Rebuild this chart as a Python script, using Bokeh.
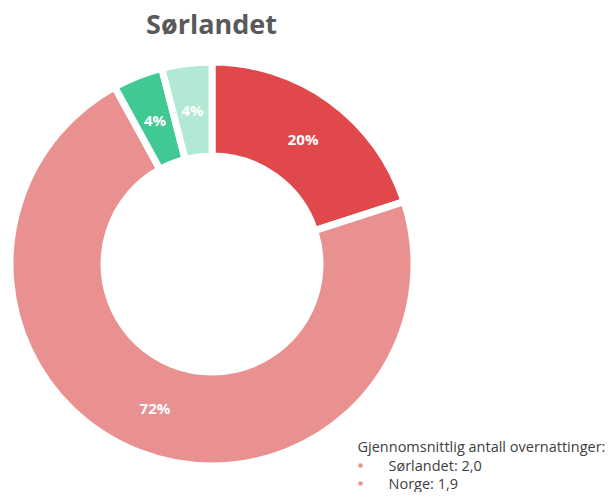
import math
from bokeh.plotting import figure
from bokeh.models import Range1d, ColumnDataSource
from bokeh.core.properties import value
from bokeh.embed import file_html
from bokeh.resources import INLINE

# ---- data ----
title_text = "Sørlandet"
categories = ["Kategori 1", "Kategori 2", "Kategori 3", "Kategori 4"]
shares = [20, 72, 4, 4]
slice_labels = ["20%", "72%", "4%", "4%"]
note_header = "Gjennomsnittlig antall overnattinger:"
note_items = ["Sørlandet: 2,0", "Norge: 1,9"]

# ---- styles ----
colors = ["#E0484B", "#E99090", "#41C993", "#B2E9D4"]
W, H = 606, 492
cx, cy = 211.5, 500 - 263.5
r_out, r_in = 202, 108

p = figure(width=W, height=H, output_backend="svg", toolbar_location=None,
           x_range=Range1d(0, W), y_range=Range1d(500 - H, 500),
           min_border=0)
p.axis.visible = False
p.grid.visible = False
p.outline_line_color = None
p.background_fill_color = "white"
p.border_fill_color = "white"

total = float(sum(shares))
starts, ends, lx, ly = [], [], [], []
cum = 0.0
r_mid = (r_out + r_in) / 2.0
for v in shares:
    a0 = math.pi / 2 - 2 * math.pi * cum / total
    cum += v
    a1 = math.pi / 2 - 2 * math.pi * cum / total
    starts.append(a0)
    ends.append(a1)
    am = (a0 + a1) / 2
    lx.append(cx + r_mid * math.cos(am))
    ly.append(cy + r_mid * math.sin(am))

src = ColumnDataSource(dict(cat=categories, start=starts, end=ends, color=colors,
                            lx=lx, ly=ly, lab=slice_labels))
p.annular_wedge(x=cx, y=cy, inner_radius=r_in, outer_radius=r_out,
                start_angle="start", end_angle="end", direction="clock",
                fill_color="color", line_color="white", line_width=7, source=src)
p.text(x="lx", y="ly", text="lab", source=src, text_color="white",
       text_font=value("Open Sans"), text_font_style="bold", text_font_size="15px",
       text_align="center", text_baseline="middle")

# title
p.text(x=[211], y=[500 - 23], text=[title_text], text_color="#595959",
       text_font=value("Open Sans"), text_font_style="bold", text_font_size="27px",
       text_align="center", text_baseline="middle")

# note
p.text(x=[357], y=[500 - 446], text=[note_header], text_color="#404040",
       text_font=value("Open Sans"), text_font_size="14.5px",
       text_align="left", text_baseline="middle")
p.text(x=[388, 388], y=[500 - 465, 500 - 483], text=note_items, text_color="#404040",
       text_font=value("Open Sans"), text_font_size="14.5px",
       text_align="left", text_baseline="middle")
p.scatter(x=[360, 360], y=[500 - 465, 500 - 483], marker="circle", size=4.5,
          fill_color="#E99090", line_color=None)

open("out.html", "w").write(file_html(p, INLINE))
